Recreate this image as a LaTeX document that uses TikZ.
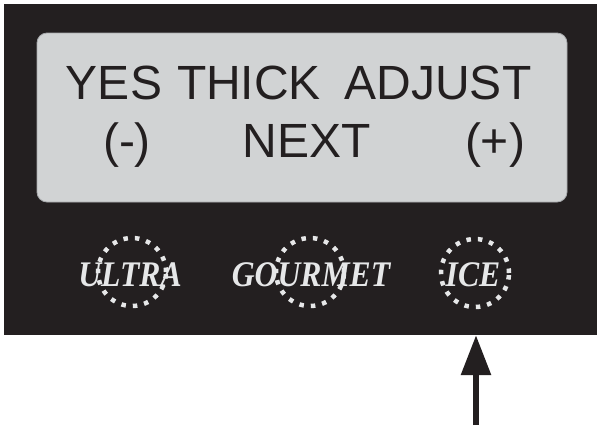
\documentclass[tikz,border=0pt]{standalone}
\usepackage{fontspec}
\setmainfont{Liberation Sans}
\newfontfamily\btnfont[FakeStretch=0.88]{Liberation Serif}
\usepackage{xcolor}
\usepackage{tikz}
\usetikzlibrary{arrows.meta, positioning, calc}
\definecolor{panelblack}{HTML}{231F20}
\definecolor{lcdgrey}{HTML}{D1D3D4}
\definecolor{lcdedge}{HTML}{A7A9AC}
\definecolor{dotwhite}{HTML}{E6E7E8}
\tikzset{
  panelbox/.style={
    rectangle, fill=panelblack, draw=none,
    minimum width=593pt, minimum height=331pt, inner sep=0pt
  },
  lcdbox/.style={
    rectangle, rounded corners=10pt,
    fill=lcdgrey, draw=lcdedge, line width=0.8pt,
    minimum width=530pt, minimum height=169pt, inner sep=0pt
  },
  lcdtext/.style={
    anchor=base, inner sep=0pt, text=panelblack,
    font=\fontsize{48}{50}\selectfont
  },
  btnlabel/.style={
    anchor=base, inner sep=0pt, text=dotwhite,
    font=\btnfont\bfseries\itshape\fontsize{36}{38}\selectfont
  },
  btnring/.style={
    circle, minimum size=68pt, inner sep=0pt,
    draw=dotwhite, line width=4.5pt, dash pattern=on 4.5pt off 7pt
  },
  pointer/.style={
    -{Triangle[length=40pt, width=29pt]}, line width=6pt, color=panelblack
  }
}
\begin{document}
\begin{tikzpicture}[x=1pt, y=-1pt]
  \useasboundingbox (0,0) rectangle (597,429);

  % ── Panel and display ─────────────────────────────────────────────
  \node[panelbox] (panel)   at (300.5,169.5) {};
  \node[lcdbox]   (display) at (302,117.5)   {};

  % display text
  \node[lcdtext] (yes)    at (114,99)  {YES};
  \node[lcdtext] (thick)  at (249,99)  {THICK};
  \node[lcdtext] (adjust) at (438,99)  {ADJUST};
  \node[lcdtext] (minus)  at (127,157) {(-)};
  \node[lcdtext] (next)   at (307,157) {NEXT};
  \node[lcdtext] (plus)   at (495,157) {(+)};

  % ── Buttons ───────────────────────────────────────────────────────
  \node[btnring] (ultrabtn)   at (132,272) {};
  \node[btnring] (gourmetbtn) at (310,272) {};
  \node[btnring] (icebtn)     at (475,273) {};

  \node[btnlabel] (ultra)   at (130,286) {ULTRA};
  \node[btnlabel] (gourmet) at (311,286) {GOURMET};
  \node[btnlabel] (ice)     at (473,286) {ICE};

  % ── Pointer to the ICE button ─────────────────────────────────────
  \coordinate (tail) at (476,425);
  \draw[pointer] (tail) -- (tail |- panel.south);

\end{tikzpicture}
\end{document}
